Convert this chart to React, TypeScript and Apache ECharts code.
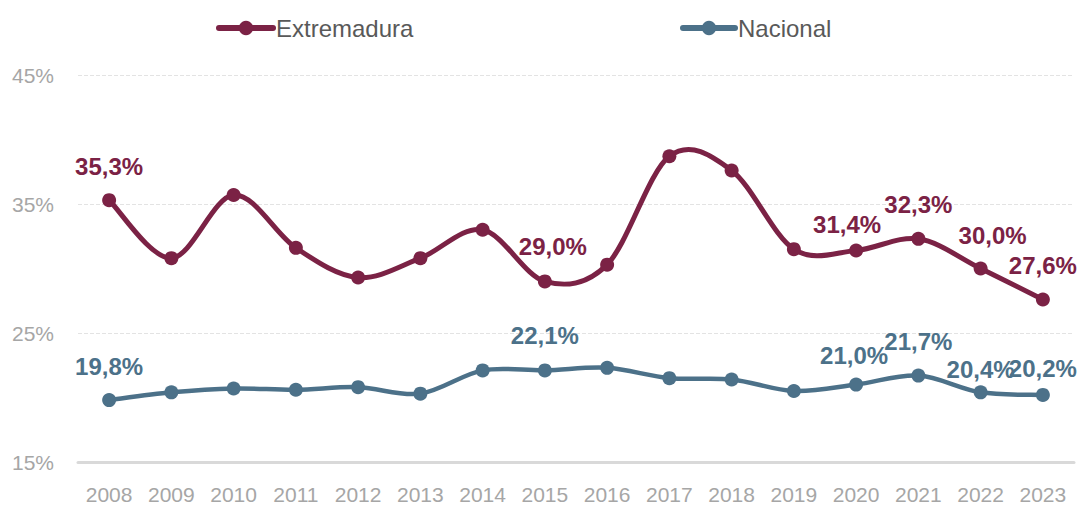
import React, { useEffect, useRef } from "react";
import * as echarts from "echarts";

const years = ["2008","2009","2010","2011","2012","2013","2014","2015","2016","2017","2018","2019","2020","2021","2022","2023"];
const extremadura = [35.3, 30.8, 35.7, 31.6, 29.3, 30.8, 33.0, 29.0, 30.3, 38.7, 37.6, 31.5, 31.4, 32.3, 30.0, 27.6];
const nacional = [19.8, 20.4, 20.7, 20.6, 20.8, 20.3, 22.1, 22.1, 22.3, 21.5, 21.4, 20.5, 21.0, 21.7, 20.4, 20.2];
const yTicks = { min: 15, max: 45, step: 10 };

// label offsets per labelled point (index -> [dx, dy])
const extLabels: Record<number, [number, number]> = { 0: [0, 0], 7: [8, -1], 12: [-9, 8], 13: [0, 0], 14: [12, 1], 15: [0, 0] };
const nacLabels: Record<number, [number, number]> = { 0: [0, 0], 7: [0, -1], 12: [-2, 5], 13: [0, 0], 14: [0, 11], 15: [0, 8] };

const EXT_COLOR = "#7b2245";
const NAC_COLOR = "#4c7189";
const FONT = "'Liberation Sans', Arial, sans-serif";

const fmt = (v: number) => `${v.toFixed(1).replace(".", ",")}%`;

function buildData(values: number[], labels: Record<number, [number, number]>, color: string) {
  return values.map((v, i) => {
    const off = labels[i];
    if (!off) return { value: v };
    return {
      value: v,
      label: {
        show: true,
        position: "top",
        distance: 15,
        offset: off,
        color,
        fontSize: 24,
        fontWeight: "bold",
        fontFamily: FONT,
        formatter: (p: any) => fmt(p.value),
      },
    };
  });
}

// segment rows: [index, prev, cur, next, next2] for smooth curve segments
function segments(values: number[]) {
  const n = values.length;
  const rows: number[][] = [];
  for (let i = 0; i < n - 1; i++) {
    rows.push([i, values[Math.max(i - 1, 0)], values[i], values[i + 1], values[Math.min(i + 2, n - 1)]]);
  }
  return rows;
}

function curveSeries(name: string, values: number[], color: string, width: number) {
  const n = values.length;
  return {
    name,
    type: "custom",
    data: segments(values),
    encode: { x: 0, y: 2 },
    z: 2,
    silent: true,
    renderItem: (_params: any, api: any) => {
      const i = api.value(0);
      const p0 = api.coord([Math.max(i - 1, 0), api.value(1)]);
      const p1 = api.coord([i, api.value(2)]);
      const p2 = api.coord([i + 1, api.value(3)]);
      const p3 = api.coord([Math.min(i + 2, n - 1), api.value(4)]);
      const t = 1 / 6;
      return {
        type: "bezierCurve",
        shape: {
          x1: p1[0], y1: p1[1], x2: p2[0], y2: p2[1],
          cpx1: p1[0] + (p2[0] - p0[0]) * t,
          cpy1: p1[1] + (p2[1] - p0[1]) * t,
          cpx2: p2[0] - (p3[0] - p1[0]) * t,
          cpy2: p2[1] - (p3[1] - p1[1]) * t,
        },
        style: { stroke: color, lineWidth: width, fill: null, lineCap: "round" },
      };
    },
  };
}

export default function App() {
  const ref = useRef<HTMLDivElement>(null);
  useEffect(() => {
    if (!ref.current) return;
    const chart = echarts.init(ref.current, undefined, { renderer: "svg" });
    const legendCommon = {
      top: 16,
      padding: 0,
      itemHeight: 18,
      itemGap: 0,
      itemStyle: { borderWidth: 0 },
      lineStyle: { width: 6, cap: "round", opacity: 1 },
      textStyle: { fontSize: 24, color: "#595959", fontFamily: FONT, padding: [0, 0, 0, -2] },
    };
    chart.setOption({
      animation: false,
      backgroundColor: "#ffffff",
      textStyle: { fontFamily: FONT },
      legend: [
        { ...legendCommon, data: ["Extremadura"], left: 216, itemWidth: 54 },
        { ...legendCommon, data: ["Nacional"], left: 680, itemWidth: 52 },
      ],
      grid: { left: 78, right: 15, top: 75, bottom: 43, containLabel: false },
      xAxis: {
        type: "category",
        data: years,
        boundaryGap: true,
        axisLine: { show: true, lineStyle: { color: "#d9d9d9", width: 3 } },
        axisTick: { show: false },
        axisLabel: { color: "#a6a6a6", fontSize: 21, margin: 22, fontFamily: FONT },
      },
      yAxis: {
        type: "value",
        min: yTicks.min,
        max: yTicks.max,
        interval: yTicks.step,
        axisLine: { show: false },
        axisTick: { show: false },
        axisLabel: { color: "#a6a6a6", fontSize: 21, margin: 24, fontFamily: FONT, formatter: "{value}%" },
        splitLine: { show: true, lineStyle: { color: "#e3e3e3", type: "dashed", width: 1 } },
      },
      series: [
        curveSeries("Extremadura-curve", extremadura, EXT_COLOR, 5),
        curveSeries("Nacional-curve", nacional, NAC_COLOR, 4.5),
        {
          name: "Extremadura",
          type: "line",
          symbol: "circle",
          symbolSize: 14,
          lineStyle: { color: EXT_COLOR, width: 0, opacity: 0 },
          itemStyle: { color: EXT_COLOR },
          label: { show: false },
          data: buildData(extremadura, extLabels, EXT_COLOR),
          z: 3,
        },
        {
          name: "Nacional",
          type: "line",
          symbol: "circle",
          symbolSize: 14,
          lineStyle: { color: NAC_COLOR, width: 0, opacity: 0 },
          itemStyle: { color: NAC_COLOR },
          label: { show: false },
          data: buildData(nacional, nacLabels, NAC_COLOR),
          z: 3,
        },
      ],
    });
    return () => chart.dispose();
  }, []);
  return <div ref={ref} style={{ position: "fixed", left: 0, top: 0, width: 1089, height: 505 }} />;
}
